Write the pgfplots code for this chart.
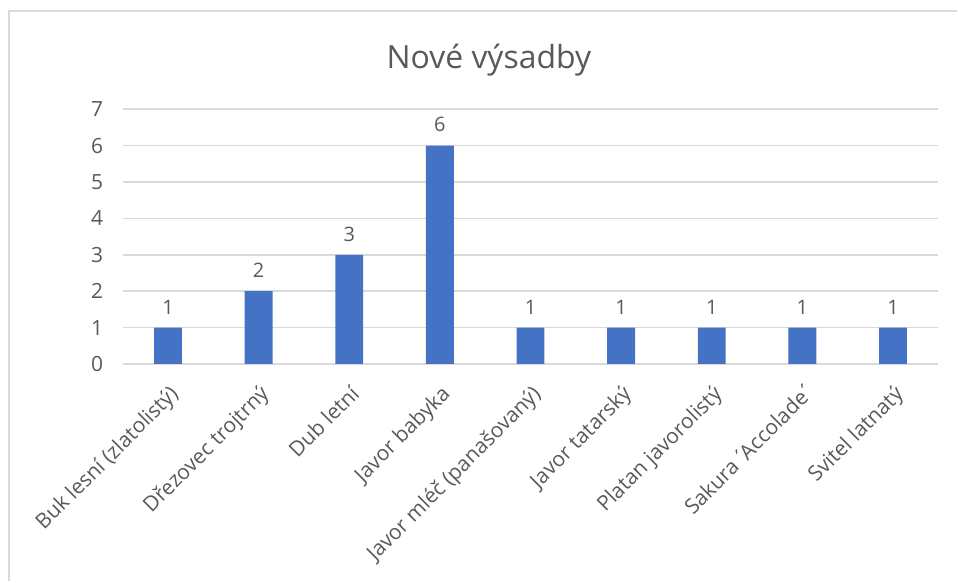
\documentclass[border=0pt]{standalone}
\usepackage{pgfplots}
\pgfplotsset{compat=1.18}
\usepackage{fontspec}
\setmainfont{Open Sans}
\definecolor{barblue}{HTML}{4472C4}
\definecolor{txtgray}{HTML}{595959}
\definecolor{gridgray}{HTML}{D9D9D9}
\begin{document}
\begin{tikzpicture}[x=1pt,y=1pt]
\path (0,0) rectangle (958,581);
\draw[gridgray, line width=1.5pt] (9,-2) -- (9,570) -- (960,570);
\begin{axis}[
  at={(123pt,216pt)}, anchor=south west,
  scale only axis, width=818pt, height=255.5pt,
  xmin=-0.5, xmax=8.5, ymin=0, ymax=7,
  ytick={0,...,7},
  xtick=data,
  xticklabels={Buk lesní (zlatolistý),Dřezovec trojtrný,Dub letní,Javor babyka,Javor mléč (panašovaný),Javor tatarský,Platan javorolistý,{Sakura {\kern-0.12em´\kern-0.22em}Accolade\kern-0.1em´\kern-0.2em},Svitel latnatý},
  x tick label style={rotate=45, anchor=north east, inner sep=0pt, font=\fontsize{21}{24}\selectfont, text=txtgray, yshift=-14pt, xshift=-14pt},
  y tick label style={font=\fontsize{21}{26}\selectfont, text=txtgray, xshift=-16pt},
  /pgf/number format/assume math mode=true,
  axis line style={draw=none},
  major tick length=0pt,
  ymajorgrids, grid style={gridgray, line width=1.5pt},
  axis x line*=bottom,
  x axis line style={draw=gridgray, line width=1.5pt},
  ybar, bar width=28pt,
  nodes near coords,
  every node near coord/.append style={font=\fontsize{20}{24}\selectfont, text=txtgray, yshift=10pt},
  title={Nové výsadby},
  title style={font=\fontsize{32}{36}\selectfont, text=txtgray, at={(0.449,1)}, anchor=south, yshift=24pt},
  clip=false,
]
\addplot[fill=barblue, draw=none] coordinates {(0,1) (1,2) (2,3) (3,6) (4,1) (5,1) (6,1) (7,1) (8,1)};
\end{axis}
\end{tikzpicture}
\end{document}
